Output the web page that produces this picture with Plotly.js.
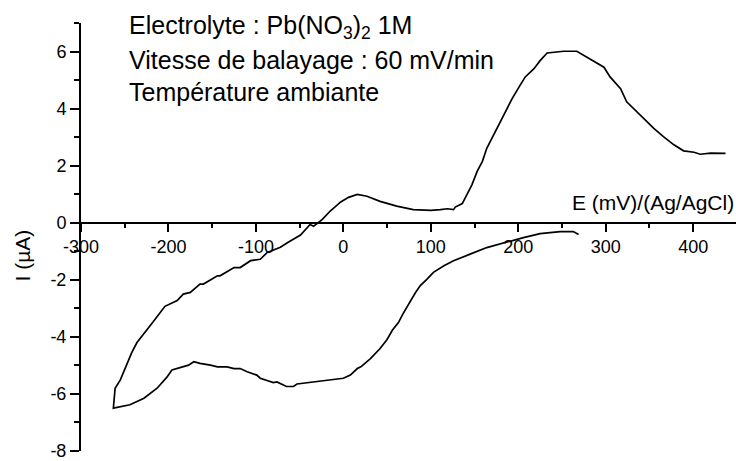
<!DOCTYPE html>
<html>
<head>
<meta charset="utf-8">
<script src="https://cdn.plot.ly/plotly-3.0.1.min.js"></script>
<style>html,body{margin:0;padding:0;background:#fff;}#chart{width:736px;height:461px;}</style>
</head>
<body>
<div id="chart"></div>
<script>
// Potential E (mV vs Ag/AgCl): return (cathodic) branch from right to left, then forward (anodic) branch
const potentialE = [
  269, 263, 248, 225, 206, 183, 164, 145, 126, 115, 103, 96, 88, 82, 73, 68, 63, 56, 50, 42, 31, 20, 16, 8, 0,
  -15, -34, -53, -57, -65, -76, -80, -95, -99, -110, -118, -125, -133, -144, -152, -164, -171, -177, -183, -190,
  -196, -202, -213, -228, -244, -263,
  -261, -255, -251, -246, -242, -236, -230, -222, -217, -204, -190, -183, -175, -164, -160, -144, -141, -125,
  -118, -106, -95, -87, -72, -64, -49, -38, -34, -24, -15, -3, 6, 16, 27, 42, 61, 80, 100, 111, 119, 126, 128,
  136, 141, 147, 153, 159, 164, 170, 176, 181, 187, 193, 201, 208, 218, 225, 233, 242, 252, 267, 275, 286, 298,
  305, 317, 324, 332, 343, 355, 366, 378, 389, 401, 408, 420, 437
];
// Current I (µA)
const currentI = [
  -0.41, -0.31, -0.31, -0.38, -0.52, -0.70, -0.87, -1.10, -1.33, -1.51, -1.74, -1.97, -2.20, -2.47, -2.93, -3.20, -3.50, -3.77, -4.09, -4.41, -4.76, -5.05, -5.11, -5.34, -5.45,
  -5.51, -5.57, -5.65, -5.74, -5.74, -5.58, -5.60, -5.45, -5.34, -5.22, -5.11, -5.11, -5.05, -5.05, -4.99, -4.93, -4.87, -4.99, -5.05, -5.11,
  -5.16, -5.42, -5.80, -6.15, -6.38, -6.50,
  -5.80, -5.51, -5.20, -4.85, -4.55, -4.20, -3.95, -3.65, -3.45, -2.93, -2.73, -2.50, -2.44, -2.15, -2.15, -1.86, -1.86, -1.57,
  -1.57, -1.33, -1.28, -1.04, -0.86, -0.70, -0.43, -0.06, -0.12, 0.12, 0.41, 0.73, 0.89, 0.99, 0.93, 0.75, 0.58, 0.46, 0.43, 0.46, 0.49, 0.46, 0.55,
  0.67, 0.99, 1.33, 1.80, 2.15, 2.61, 2.96, 3.31, 3.65, 4.00, 4.35, 4.76, 5.11, 5.40, 5.68, 5.95, 5.98, 6.01, 6.01, 5.86, 5.68, 5.45,
  5.11, 4.70, 4.24, 4.00, 3.65, 3.31, 3.02, 2.73, 2.52, 2.47, 2.40, 2.44, 2.43
];
const xTickVals = [-300, -200, -100, 0, 100, 200, 300, 400];
const xTickLabels = ["-300", "-200", "-100", "0", "100", "200", "300", "400"];
const yTickVals = [-8, -6, -4, -2, 0, 2, 4, 6];
const yTickLabels = ["-8", "-6", "-4", "-2", "0", "2", "4", "6"];

const FONT = "Liberation Sans, Arial, Helvetica, sans-serif";
const xRange = [-300, 449];
const yRange = [-8, 7];

const trace = {
  x: potentialE, y: currentI, type: "scatter", mode: "lines",
  line: {color: "#000", width: 1.7}, hoverinfo: "skip", showlegend: false
};

const layout = {
  width: 736, height: 461,
  margin: {l: 81, r: 0, t: 23, b: 10, pad: 0},
  paper_bgcolor: "#fff", plot_bgcolor: "#fff",
  font: {family: FONT, color: "#000", size: 18},
  showlegend: false,
  xaxis: {
    range: xRange, anchor: "free", position: (0 - yRange[0]) / (yRange[1] - yRange[0]),
    showline: true, linecolor: "#000", linewidth: 2,
    ticks: "outside", ticklen: 8, tickwidth: 2, tickcolor: "#000",
    tickmode: "array", tickvals: xTickVals, ticktext: xTickLabels, ticklabeloverflow: "allow",
    minor: {tickmode: "linear", tick0: 0, dtick: 50, ticks: "outside", ticklen: 4, tickwidth: 2, tickcolor: "#000", showgrid: false},
    showgrid: false, zeroline: false, tickfont: {size: 18, family: FONT, color: "#000"}
  },
  yaxis: {
    range: yRange,
    showline: true, linecolor: "#000", linewidth: 2,
    ticks: "outside", ticklen: 9, tickwidth: 2, tickcolor: "#000",
    tickmode: "array", tickvals: yTickVals, ticktext: yTickLabels, ticklabeloverflow: "allow",
    minor: {tickmode: "linear", tick0: 0, dtick: 1, ticks: "outside", ticklen: 5, tickwidth: 2, tickcolor: "#000", showgrid: false},
    showgrid: false, zeroline: false, tickfont: {size: 18, family: FONT, color: "#000"}
  },
  annotations: [
    {text: "Electrolyte : Pb(NO<sub>3</sub>)<sub>2</sub> 1M", xref: "paper", yref: "paper", x: 0.07, y: 0.99,
     xanchor: "left", yanchor: "middle", showarrow: false, font: {size: 25, family: FONT, color: "#000"}},
    {text: "Vitesse de balayage : 60 mV/min", xref: "paper", yref: "paper", x: 0.07, y: 0.913,
     xanchor: "left", yanchor: "middle", showarrow: false, font: {size: 25, family: FONT, color: "#000"}},
    {text: "Température ambiante", xref: "paper", yref: "paper", x: 0.07, y: 0.838,
     xanchor: "left", yanchor: "middle", showarrow: false, font: {size: 25, family: FONT, color: "#000"}},
    {text: "E (mV)/(Ag/AgCl)", xref: "paper", yref: "paper", x: 1.0, y: 0.58,
     xanchor: "right", yanchor: "middle", showarrow: false, font: {size: 21, family: FONT, color: "#000"}},
    {text: "I (µA)", xref: "paper", yref: "paper", x: -0.09, y: 0.457, textangle: -90,
     xanchor: "center", yanchor: "middle", showarrow: false, font: {size: 21, family: FONT, color: "#000"}}
  ]
};

Plotly.newPlot("chart", [trace], layout, {staticPlot: true, displayModeBar: false});
</script>
</body>
</html>
